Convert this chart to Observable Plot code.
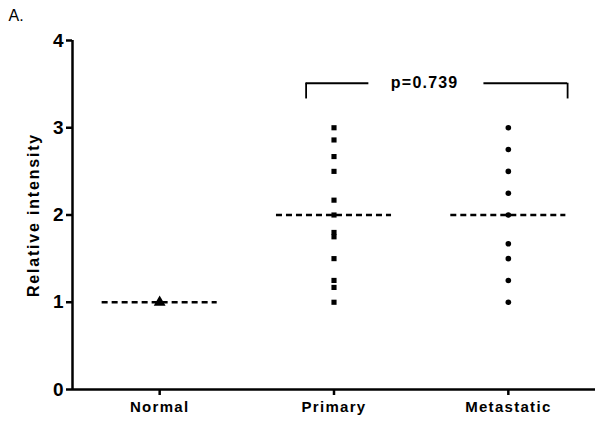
<!DOCTYPE html>
<html>
<head>
<meta charset="utf-8">
<script src="https://cdn.jsdelivr.net/npm/d3@7"></script>
<script src="https://cdn.jsdelivr.net/npm/@observablehq/plot@0.6"></script>
<style>
  html, body { margin: 0; padding: 0; background: #fff; }
  #chart svg { font-family: "Liberation Sans", Arial, sans-serif; }
  #chart .yax text { font-size: 19px; font-weight: bold; }
  #chart .xax text { font-size: 15px; font-weight: bold; letter-spacing: 1.3px; }
  #chart .plab text { font-size: 16px; font-weight: bold; letter-spacing: 1.2px; }
  #chart .ylab text { font-size: 16px; font-weight: bold; letter-spacing: 1.8px; }
  #chart .panel text { font-size: 16px; font-weight: normal; }
</style>
</head>
<body>
<div id="chart"></div>
<script>
const groups = ["Normal", "Primary", "Metastatic"];
const normalValues = [1.0];
const primaryValues = [3.0, 2.86, 2.67, 2.5, 2.17, 2.0, 1.8, 1.75, 1.5, 1.25, 1.17, 1.0];
const metastaticValues = [3.0, 2.75, 2.5, 2.25, 2.0, 1.67, 1.5, 1.25, 1.0];
const medians = [1.0, 2.0, 2.0];
const yTicks = [0, 1, 2, 3, 4];
const yLabel = "Relative intensity";
const panelLabel = "A.";
const pLabel = "p=0.739";

const pts = [
  ...normalValues.map(v => ({g: 1, v, s: "triangle"})),
  ...primaryValues.map(v => ({g: 2, v, s: "square"})),
  ...metastaticValues.map(v => ({g: 3, v, s: "circle"}))
];
const med = medians.map((v, i) => ({g: i + 1, v}));

const chart = Plot.plot({
  width: 595,
  height: 439,
  marginLeft: 72,
  marginRight: 0,
  marginTop: 40,
  marginBottom: 50,
  x: {domain: [0.5, 3.5]},
  y: {domain: [0, 4]},
  style: {fontFamily: "'Liberation Sans', Arial, sans-serif", color: "black"},
  marks: [
    Plot.axisY({ticks: yTicks, tickFormat: d3.format("d"), tickSize: 6, tickPadding: 3, strokeWidth: 2.5, fontSize: 19, fontWeight: "bold", label: null, className: "yax"}),
    Plot.axisX({ticks: [1, 2, 3], tickFormat: d => groups[d - 1], tickSize: 6, tickPadding: 6, strokeWidth: 2.5, fontSize: 15, fontWeight: "bold", label: null, className: "xax"}),
    Plot.ruleX([0.5], {y1: 0, y2: 4, strokeWidth: 2.5}),
    Plot.ruleY([0], {x1: 0.5, x2: 3.5, strokeWidth: 2.5}),
    Plot.ruleY(med, {x1: d => d.g - 0.33, x2: d => d.g + 0.33, y: "v", strokeWidth: 2.5, strokeDasharray: "6,4"}),
    Plot.dot(pts.filter(d => d.s === "square"), {x: "g", y: "v", symbol: "square", r: 2.9, fill: "black", stroke: null}),
    Plot.dot(pts.filter(d => d.s === "circle"), {x: "g", y: "v", symbol: "circle", r: 2.8, fill: "black", stroke: null}),
    Plot.dot(pts.filter(d => d.s === "triangle"), {x: "g", y: "v", symbol: "triangle", r: 4.4, fill: "black", stroke: null}),
    // comparison bracket Primary vs Metastatic
    Plot.ruleX([1.84, 3.34], {y1: 3.33, y2: 3.51, strokeWidth: 1.8}),
    Plot.ruleY([3.51], {x1: 1.84, x2: 2.2, strokeWidth: 1.8}),
    Plot.ruleY([3.51], {x1: 2.86, x2: 3.34, strokeWidth: 1.8}),
    Plot.text([pLabel], {x: 2.52, y: 3.51, text: d => d, fontSize: 16, fontWeight: "bold", textAnchor: "middle", className: "plab"}),
    Plot.text([yLabel], {frameAnchor: "left", dx: -39, rotate: -90, text: d => d, fontSize: 16, fontWeight: "bold", textAnchor: "middle", className: "ylab"}),
    Plot.text([panelLabel], {frameAnchor: "top-left", dx: -64, dy: -31, text: d => d, fontSize: 16, fontWeight: "normal", textAnchor: "start", className: "panel"})
  ]
});
document.getElementById("chart").appendChild(chart);
</script>
</body>
</html>
